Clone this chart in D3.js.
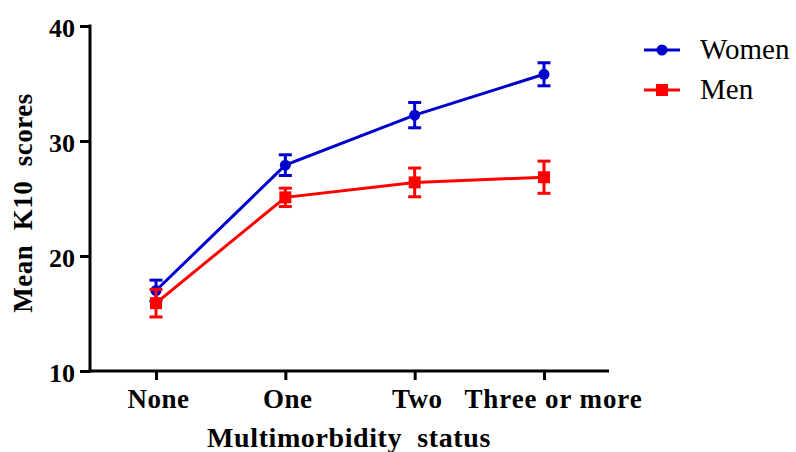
<!DOCTYPE html>
<html>
<head>
<meta charset="utf-8">
<script src="https://cdn.jsdelivr.net/npm/d3@7"></script>
<style>
  html, body { margin: 0; padding: 0; background: #fff; }
  svg { display: block; }
</style>
</head>
<body>
<svg id="chart" width="796" height="452"></svg>
<script>
const categories = ["None", "One", "Two", "Three or more"];
const womenMean = [17.0, 27.9, 32.25, 35.8];
const womenErr  = [0.9, 0.9, 1.1, 1.0];
const menMean   = [15.9, 25.1, 26.4, 26.85];
const menErr    = [1.2, 0.8, 1.25, 1.4];
const yTicks    = [10, 20, 30, 40];
const seriesNames = ["Women", "Men"];

const svg = d3.select("#chart");
const blue = "#0000CC", red = "#FF0000";
const font = "'Liberation Serif', 'Times New Roman', serif";

const x = d3.scalePoint().domain(categories).range([156, 544]);
const y = d3.scaleLinear().domain([10, 40]).range([371, 26]);
const axisLeftX = 90, axisRightX = 609;

// Y axis
const yAxis = svg.append("g").attr("transform", `translate(${axisLeftX},0)`)
  .call(d3.axisLeft(y).tickValues(yTicks).tickSize(10).tickPadding(5).tickFormat(d3.format("d")));
yAxis.select(".domain").remove();
yAxis.selectAll(".tick line").attr("stroke", "#000").attr("stroke-width", 3);
yAxis.selectAll(".tick text").attr("font-family", font).attr("font-weight", "bold")
  .attr("font-size", 26).attr("fill", "#000").attr("dy", "0.4em");
svg.append("line").attr("x1", axisLeftX).attr("x2", axisLeftX)
  .attr("y1", y(40) - 1.5).attr("y2", y(10) + 1.5).attr("stroke", "#000").attr("stroke-width", 3);

// X axis
const xAxis = svg.append("g").attr("transform", `translate(0,${y(10)})`)
  .call(d3.axisBottom(x).tickSize(9).tickPadding(8));
xAxis.select(".domain").remove();
xAxis.selectAll(".tick line").attr("stroke", "#000").attr("stroke-width", 3);
xAxis.selectAll(".tick text").attr("font-family", font).attr("font-weight", "bold")
  .attr("font-size", 27).attr("fill", "#000").attr("dy", "0.75em")
  .attr("dx", d => d === "Three or more" ? 9 : 2)
  .attr("letter-spacing", d => d === "Three or more" ? 0.9 : 0.5);
svg.append("line").attr("x1", axisLeftX - 1.5).attr("x2", axisRightX)
  .attr("y1", y(10)).attr("y2", y(10)).attr("stroke", "#000").attr("stroke-width", 3);

// Axis titles
svg.append("text").attr("x", 349).attr("y", 447).attr("text-anchor", "middle")
  .attr("font-family", font).attr("font-weight", "bold").attr("font-size", 28)
  .attr("letter-spacing", 0.6).attr("fill", "#000")
  .text("Multimorbidity\u00a0 status");
svg.append("text").attr("transform", "translate(32,203) rotate(-90)").attr("text-anchor", "middle")
  .attr("font-family", font).attr("font-weight", "bold").attr("font-size", 27)
  .attr("letter-spacing", 0.5).attr("fill", "#000")
  .text("Mean\u00a0 K10\u00a0 scores");

// Series
const series = [
  { name: seriesNames[0], mean: womenMean, err: womenErr, color: blue, shape: "circle" },
  { name: seriesNames[1], mean: menMean, err: menErr, color: red, shape: "square" }
];
const line = d3.line().x((d, i) => x(categories[i])).y(d => y(d));

series.forEach(s => {
  const g = svg.append("g");
  g.append("path").datum(s.mean).attr("d", line).attr("fill", "none")
    .attr("stroke", s.color).attr("stroke-width", 3);
  const capW = 6.5;
  s.mean.forEach((m, i) => {
    const cx = x(categories[i]);
    const top = y(m + s.err[i]), bot = y(m - s.err[i]);
    g.append("line").attr("x1", cx).attr("x2", cx).attr("y1", top).attr("y2", bot)
      .attr("stroke", s.color).attr("stroke-width", 3);
    [top, bot].forEach(yy => g.append("line").attr("x1", cx - capW).attr("x2", cx + capW)
      .attr("y1", yy).attr("y2", yy).attr("stroke", s.color).attr("stroke-width", 3));
    if (s.shape === "circle") {
      g.append("circle").attr("cx", cx).attr("cy", y(m)).attr("r", 5.5).attr("fill", s.color);
    } else {
      g.append("rect").attr("x", cx - 6).attr("y", y(m) - 6).attr("width", 12).attr("height", 12).attr("fill", s.color);
    }
  });
});

// Legend
const legendY = [50, 90];
series.forEach((s, i) => {
  const ly = legendY[i];
  svg.append("line").attr("x1", 644).attr("x2", 680).attr("y1", ly).attr("y2", ly)
    .attr("stroke", s.color).attr("stroke-width", 3);
  if (s.shape === "circle") {
    svg.append("circle").attr("cx", 662).attr("cy", ly).attr("r", 5.5).attr("fill", s.color);
  } else {
    svg.append("rect").attr("x", 656).attr("y", ly - 6).attr("width", 12).attr("height", 12).attr("fill", s.color);
  }
  svg.append("text").attr("x", 700).attr("y", ly + 9).attr("font-family", font)
    .attr("font-size", 29).attr("fill", "#000").text(s.name);
});
</script>
</body>
</html>
